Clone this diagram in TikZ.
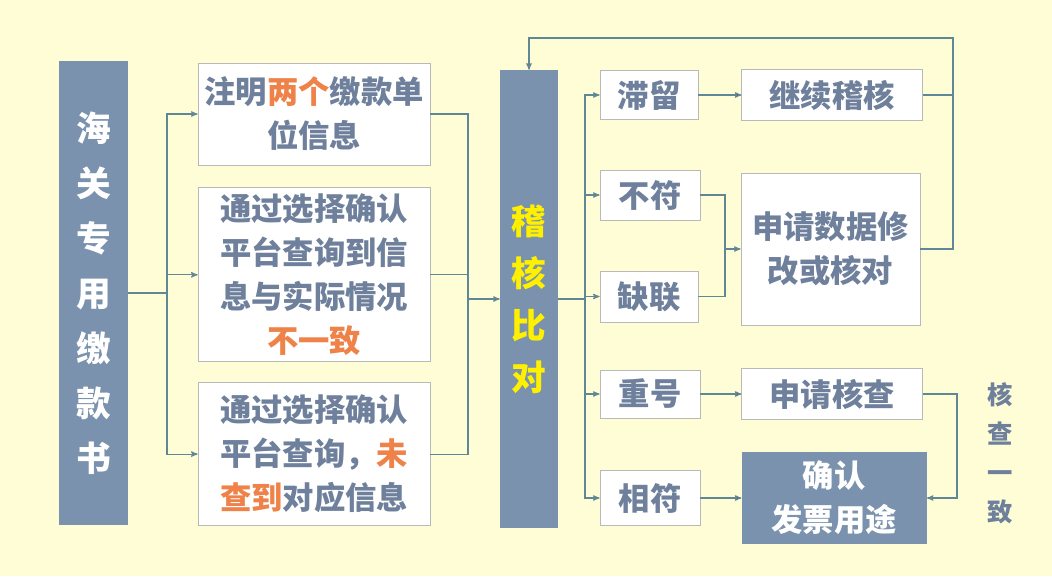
\documentclass[tikz,border=0pt]{standalone}
\usepackage{fontspec}
\setmainfont{Noto Sans CJK SC}
\usetikzlibrary{arrows,positioning}

\definecolor{bgyellow}{HTML}{FFFDD6}
\definecolor{boxblue}{HTML}{7A92AD}
\definecolor{txtblue}{HTML}{6E809B}
\definecolor{hlorange}{HTML}{EE8248}
\definecolor{hlyellow}{HTML}{FFF000}
\definecolor{linkcol}{HTML}{5F8796}
\newcommand{\hl}[1]{\textcolor{hlorange}{#1}}

\tikzset{
  box/.style={draw=gray!55, fill=white, line width=0.6pt, inner sep=0pt, align=center,
    text=txtblue, font=\fontsize{23.5}{33}\selectfont\bfseries},
  blk/.style={fill=boxblue, inner sep=0pt, align=center, text=white},
  link/.style={draw=linkcol, line width=0.8pt}
}

\begin{document}
\begin{tikzpicture}[x=0.75pt, y=-0.75pt, >=stealth']
  \fill[white] (0,0) rectangle (1052,582);
  \fill[bgyellow] (0,0) rectangle (1052,576);
  \useasboundingbox (0,0) rectangle (1052,582);

  \node[blk, minimum width=51.75pt, minimum height=348pt, font=\fontsize{26}{41.25}\selectfont\bfseries]
    (hg) at (93.5,293) {海\\关\\专\\用\\缴\\款\\书};
  \node[box, minimum width=174pt, minimum height=76.5pt] (A) at (314,114) {注明\hl{两个}缴款单\\位信息};
  \node[box, minimum width=174pt, minimum height=130.5pt] (B) [below=16.5pt of A]
    {通过选择确认\\平台查询到信\\息与实际情况\\\hl{不一致}};
  \node[box, minimum width=174pt, minimum height=107.25pt] (C) [below=15pt of B]
    {通过选择确认\\平台查询，\hl{未}\\\hl{查到}对应信息};
  \node[blk, minimum width=43.5pt, minimum height=343.5pt, text=hlyellow, font=\fontsize{26}{39}\selectfont\bfseries]
    (jh) at (529,299) {稽\\核\\比\\对};

  \node[box, minimum width=73.5pt, minimum height=36.75pt] (zl) at (649,95) {滞留};
  \node[box, minimum width=75pt, minimum height=37.5pt] (bf) at (650,195) {不符};
  \node[box, minimum width=73.5pt, minimum height=38.25pt] (ql) at (649,296.5) {缺联};
  \node[box, minimum width=75pt, minimum height=36pt] (ch) at (650,394) {重号};
  \node[box, minimum width=75pt, minimum height=41.25pt] (xf) at (650,498) {相符};

  \node[box, minimum width=135.75pt, minimum height=38.25pt] (jx) [right=32.25pt of zl] {继续稽核};
  \node[box, minimum width=134.25pt, minimum height=114pt] (sq) at (830.5,249) {申请数据修\\改或核对};
  \node[box, minimum width=135.75pt, minimum height=38.25pt] (hc) [right=30.75pt of ch] {申请核查};
  \node[blk, minimum width=138.75pt, minimum height=69pt, font=\fontsize{23.5}{33}\selectfont\bfseries]
    (qr) [right=30.75pt of xf] {确认\\发票用途};
  \node[text=txtblue, align=center, font=\fontsize{19}{29.25}\selectfont\bfseries] (hy) at (1000,453) {核\\查\\一\\致};

  \coordinate (s1) at (167,293);
  \coordinate (m1) at (468,299);
  \coordinate (s2) at (585,299);
  \coordinate (m2) at (725,249);
  \coordinate (lp) at (953,38);
  \coordinate (rp) at (957,394);

  \draw[link] (hg) -- (s1);
  \draw[link,->] (s1) |- (A);
  \draw[link,->] (s1) |- (B);
  \draw[link,->] (s1) |- (C);
  \draw[link] (A) -| (m1);
  \draw[link] (B) -| (m1);
  \draw[link] (C) -| (m1);
  \draw[link,->] (m1) -- (jh);

  \draw[link] (jh) -- (s2);
  \draw[link,->] (s2) |- (zl);
  \draw[link,->] (s2) |- (bf);
  \draw[link,->] (s2) |- (ql);
  \draw[link,->] (s2) |- (ch);
  \draw[link,->] (s2) |- (xf);

  \path[link,->]
  (zl) edge (jx)
  (ch) edge (hc)
  (xf) edge (qr);
  \draw[link] (bf) -| (m2);
  \draw[link] (ql) -| (m2);
  \draw[link,->] (m2) -- (sq);

  \draw[link,->] (jx) -| (lp) -| (jh);
  \draw[link] (sq) -| (lp);
  \draw[link,->] (hc) -- (rp) |- (qr);
\end{tikzpicture}
\end{document}
